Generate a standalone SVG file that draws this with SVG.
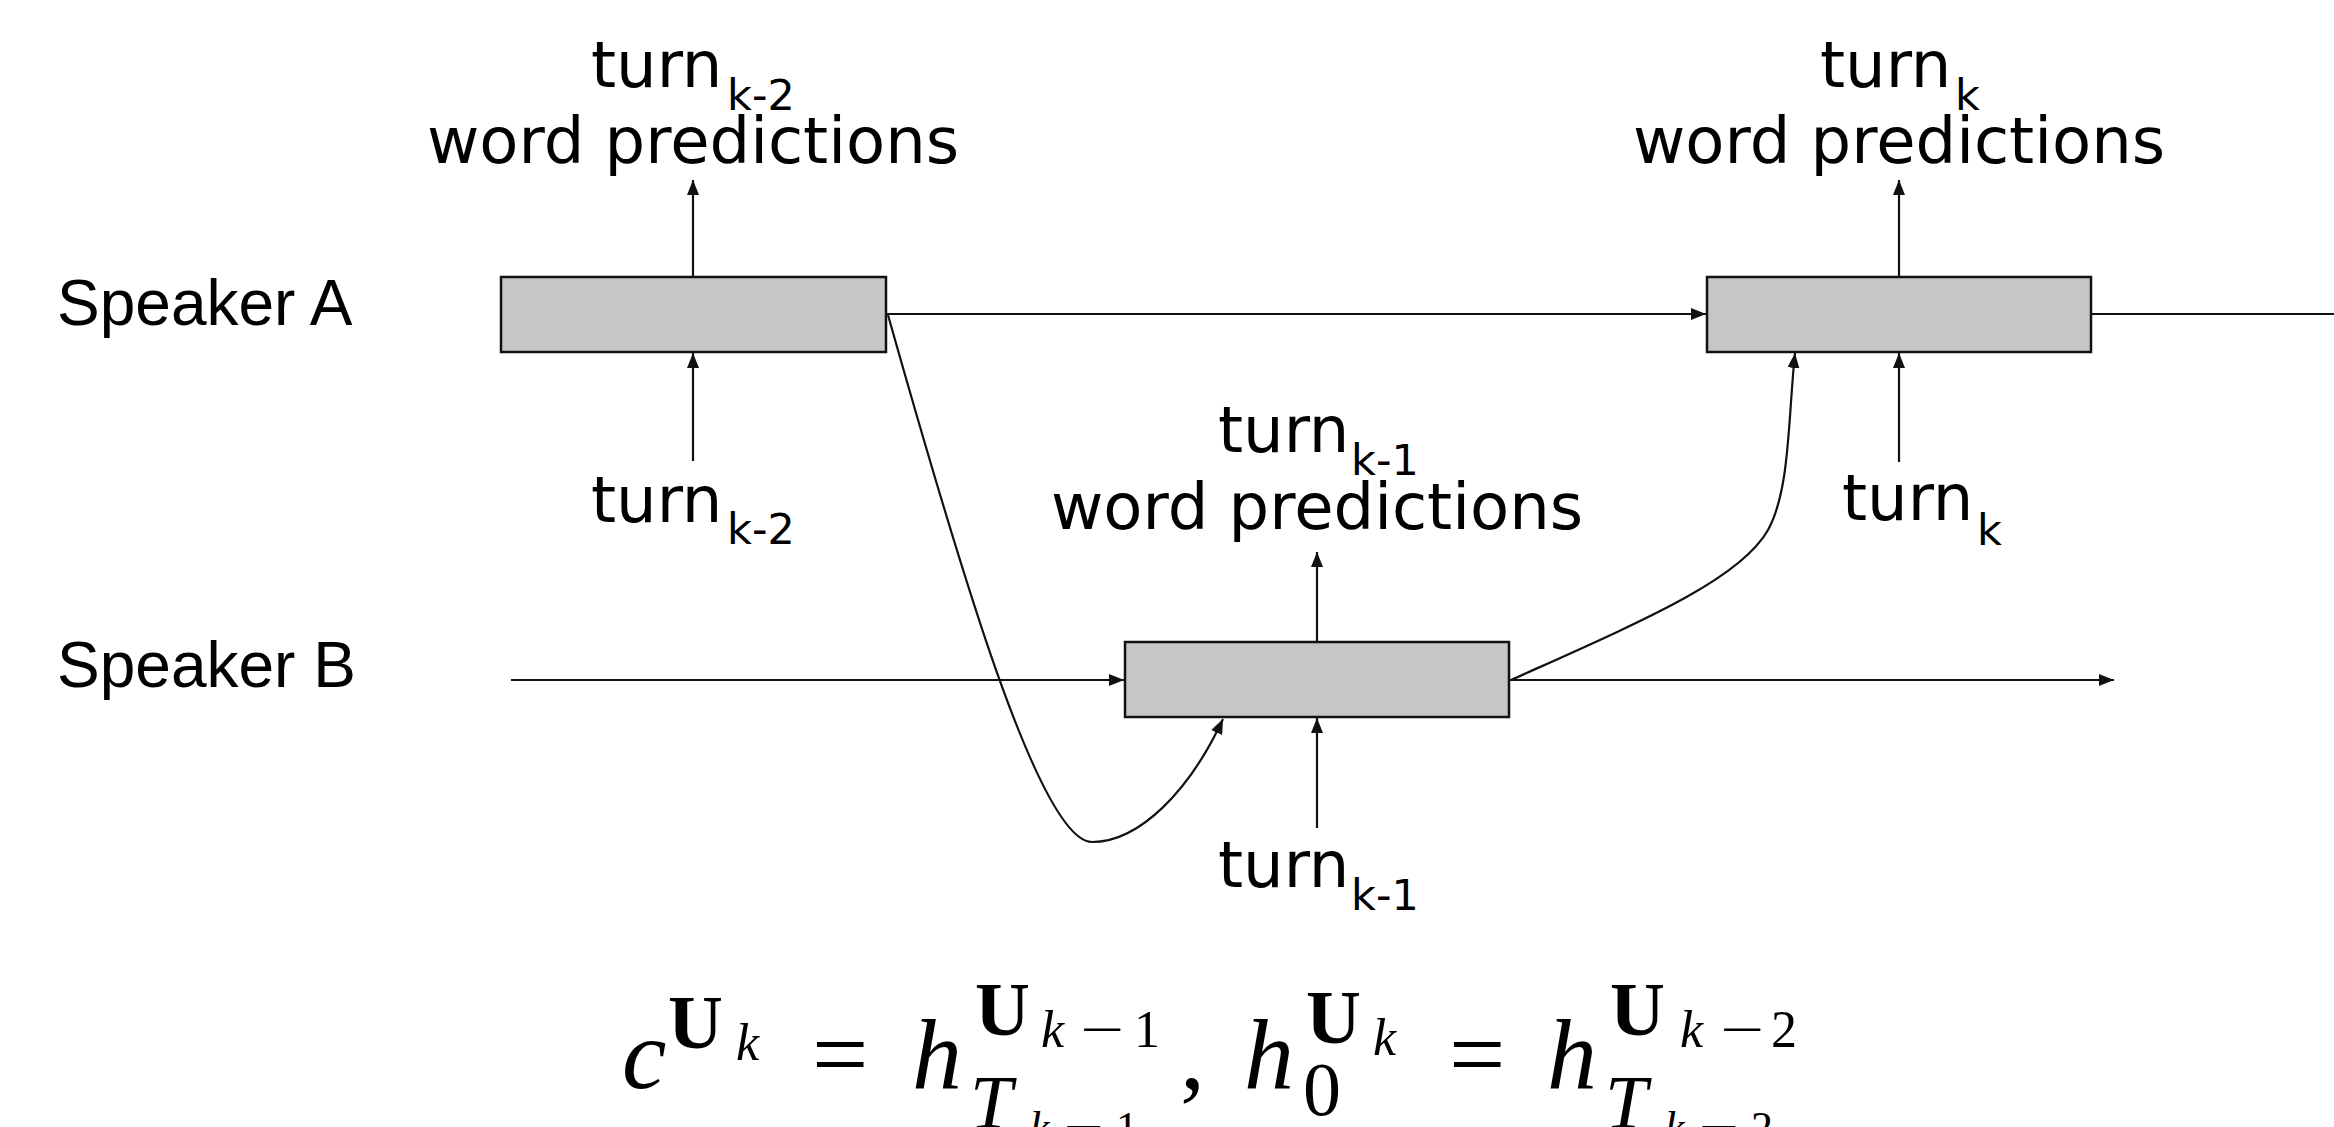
<svg xmlns="http://www.w3.org/2000/svg" width="2334" height="1127" viewBox="0 0 2334 1127">
<style>
.box{fill:#c6c6c6;stroke:#111;stroke-width:2.5}
.ln{fill:none;stroke:#111;stroke-width:2.2}
.lbl{font-family:"DejaVu Sans",Verdana,sans-serif;font-size:64px;fill:#000}
.sub{font-family:"DejaVu Sans",Verdana,sans-serif;font-size:43px;fill:#000}
.spk{font-family:"Liberation Sans",Arial,sans-serif;font-size:64px;fill:#000}
.m{font-family:"Liberation Serif","Times New Roman",serif;fill:#000}
.big{font-size:100px}
.sup{font-size:76px}
.s2{font-size:52px}
.s3{font-size:44px}
.mi{font-style:italic}
.mb{font-weight:bold}
</style>
<defs>
<marker id="ah" markerUnits="userSpaceOnUse" markerWidth="16" markerHeight="12" refX="15" refY="6" orient="auto">
<path d="M0,0 L15,6 L0,12 z" fill="#111"/>
</marker>
</defs>
<g id="speakerA-label"><text class="spk" x="57" y="325">Speaker A</text></g>
<g id="speakerB-label"><text class="spk" x="57" y="687">Speaker B</text></g>

<g id="boxA"><rect class="box" x="501" y="277" width="385" height="75"/></g>
<g id="boxB"><rect class="box" x="1125" y="642" width="384" height="75"/></g>
<g id="boxC"><rect class="box" x="1707" y="277" width="384" height="75"/></g>

<g id="outA"><text class="lbl" x="591" y="87">turn</text><text class="sub" x="727" y="110">k-2</text><text class="lbl" x="693" y="163" text-anchor="middle">word predictions</text></g>
<g id="inA"><text class="lbl" x="591" y="522">turn</text><text class="sub" x="727" y="544">k-2</text></g>
<g id="outB"><text class="lbl" x="1218" y="452">turn</text><text class="sub" x="1351" y="475">k-1</text><text class="lbl" x="1317" y="529" text-anchor="middle">word predictions</text></g>
<g id="inB"><text class="lbl" x="1218" y="887">turn</text><text class="sub" x="1351" y="910">k-1</text></g>
<g id="outC"><text class="lbl" x="1820" y="87">turn</text><text class="sub" x="1955" y="110">k</text><text class="lbl" x="1899" y="163" text-anchor="middle">word predictions</text></g>
<g id="inC"><text class="lbl" x="1842" y="520">turn</text><text class="sub" x="1977" y="545">k</text></g>

<g id="connectors">
<line class="ln" x1="693" y1="277" x2="693" y2="180" marker-end="url(#ah)"/>
<line class="ln" x1="693" y1="461" x2="693" y2="353" marker-end="url(#ah)"/>
<line class="ln" x1="1317" y1="642" x2="1317" y2="552" marker-end="url(#ah)"/>
<line class="ln" x1="1317" y1="828" x2="1317" y2="718" marker-end="url(#ah)"/>
<line class="ln" x1="1899" y1="277" x2="1899" y2="180" marker-end="url(#ah)"/>
<line class="ln" x1="1899" y1="462" x2="1899" y2="353" marker-end="url(#ah)"/>
<line class="ln" x1="886" y1="314" x2="1706" y2="314" marker-end="url(#ah)"/>
<line class="ln" x1="2091" y1="314" x2="2334" y2="314"/>
<line class="ln" x1="511" y1="680" x2="1124" y2="680" marker-end="url(#ah)"/>
<line class="ln" x1="1509" y1="680" x2="2114" y2="680" marker-end="url(#ah)"/>
<path class="ln" d="M888,315 C960,570 1040,842 1092,842 C1140,842 1190,790 1223,719" marker-end="url(#ah)"/>
<path class="ln" d="M1511,680 C1640,622 1740,580 1768,530 C1790,490 1788,420 1795,353" marker-end="url(#ah)"/>
</g>

<g id="formula">
<text class="m mi big" x="622" y="1088">c</text>
<text class="m mb sup" x="668" y="1048">U</text>
<text class="m mi s2" x="736" y="1060">k</text>
<text class="m big" x="812" y="1088">=</text>
<text class="m mi big" x="912" y="1088">h</text>
<text class="m mb sup" x="975" y="1035">U</text>
<text class="m mi s2" x="1041" y="1047">k</text>
<text class="m s2" x="1080" y="1047" textLength="44" lengthAdjust="spacingAndGlyphs">−</text>
<text class="m s2" x="1134" y="1047">1</text>
<text class="m mi sup" x="970" y="1128">T</text>
<text class="m mi s3" x="1030" y="1142">k</text>
<text class="m s3" x="1064" y="1142" textLength="40" lengthAdjust="spacingAndGlyphs">−</text>
<text class="m s3" x="1116" y="1142">1</text>
<text class="m big" x="1180" y="1088">,</text>
<text class="m mi big" x="1244" y="1088">h</text>
<text class="m mb sup" x="1306" y="1043">U</text>
<text class="m mi s2" x="1373" y="1055">k</text>
<text class="m sup" x="1303" y="1115">0</text>
<text class="m big" x="1449" y="1088">=</text>
<text class="m mi big" x="1547" y="1088">h</text>
<text class="m mb sup" x="1610" y="1035">U</text>
<text class="m mi s2" x="1680" y="1047">k</text>
<text class="m s2" x="1720" y="1047" textLength="44" lengthAdjust="spacingAndGlyphs">−</text>
<text class="m s2" x="1771" y="1047">2</text>
<text class="m mi sup" x="1605" y="1128">T</text>
<text class="m mi s3" x="1665" y="1142">k</text>
<text class="m s3" x="1699" y="1142" textLength="40" lengthAdjust="spacingAndGlyphs">−</text>
<text class="m s3" x="1751" y="1142">2</text>
</g>
</svg>
